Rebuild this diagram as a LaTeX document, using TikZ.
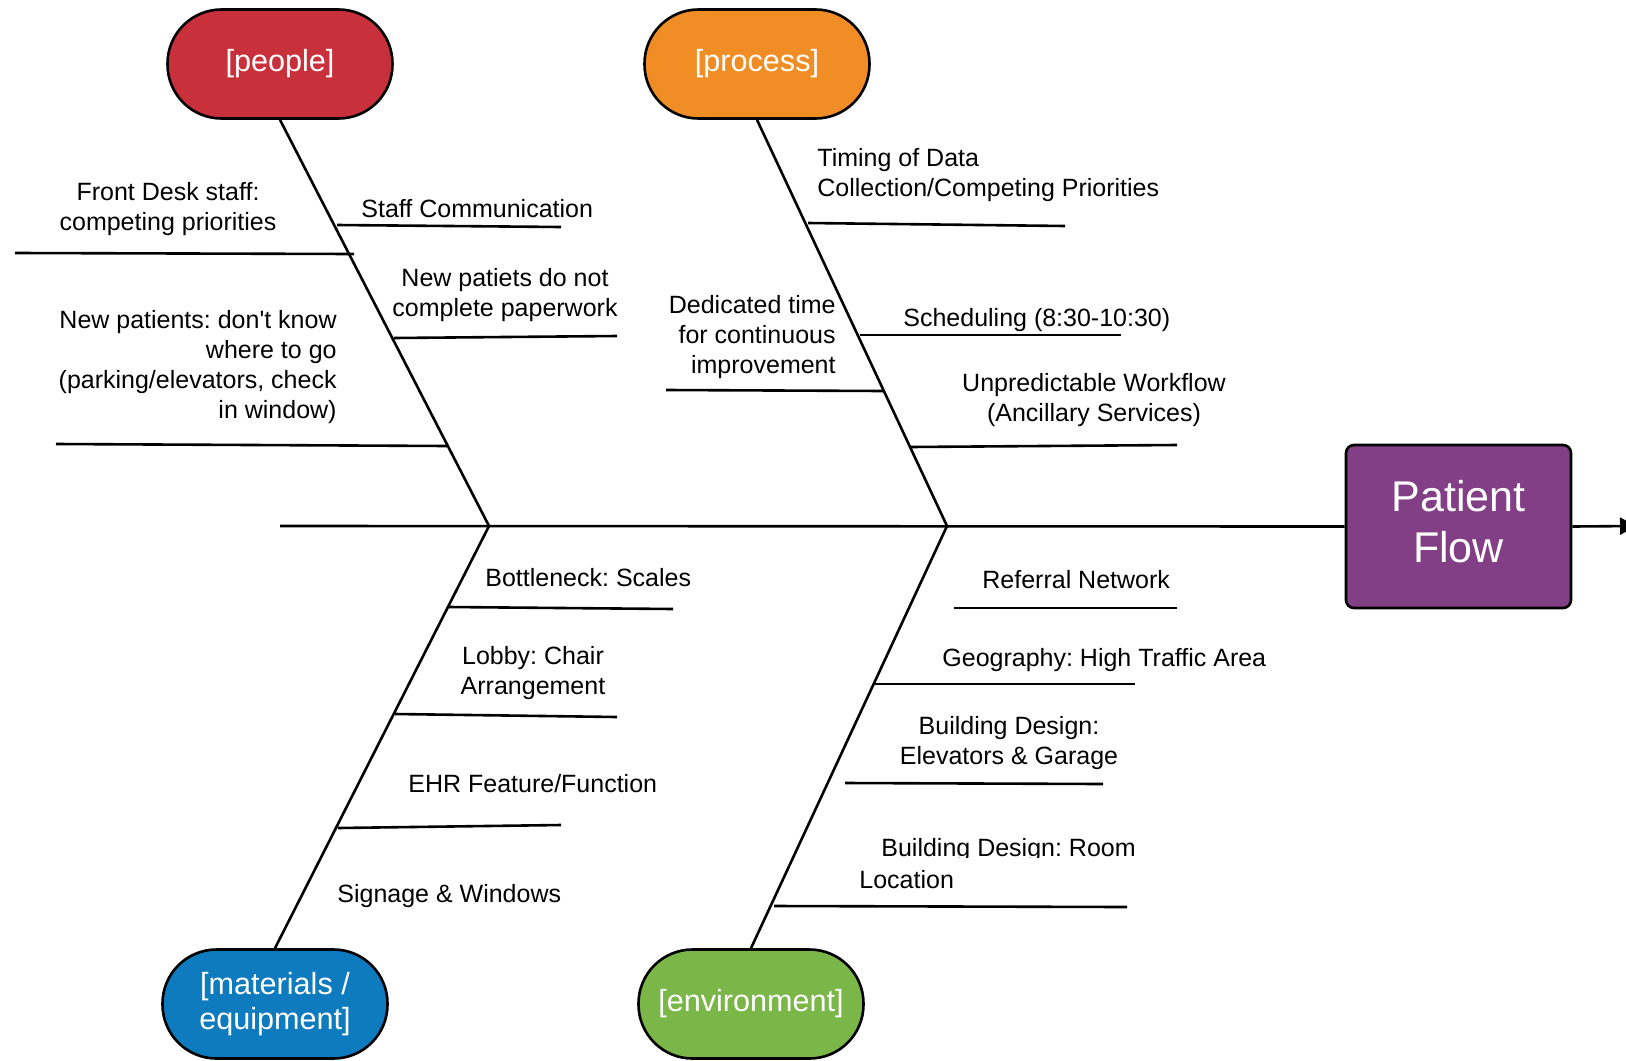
\documentclass[tikz,border=0pt]{standalone}
\usepackage{fontspec}
\setmainfont{Liberation Sans}
\usetikzlibrary{arrows.meta,positioning}
\definecolor{peoplered}{HTML}{C8303B}
\definecolor{processorange}{HTML}{F08E25}
\definecolor{materialsblue}{HTML}{0E7BBE}
\definecolor{environmentgreen}{HTML}{7AB648}
\definecolor{flowpurple}{HTML}{833F86}
\frenchspacing
\begin{document}
\begin{tikzpicture}[x=0.5pt,y=-0.5pt,
    cat/.style={draw=black,line width=1.3pt,rounded corners=27pt,minimum width=112.5pt,minimum height=54.5pt,
      inner sep=0pt,text=white,align=center,font=\fontsize{15.3}{17.5}\selectfont},
    bone/.style={line width=1.3pt},
    rib/.style={line width=1.3pt},
    cause/.style={inner sep=0pt,font=\fontsize{12.5}{15}\selectfont}]
        \useasboundingbox (0,0) rectangle (1626,1060);
        \node[cat,fill=peoplered] (people) at (280,64) {[people]};
        \node[cat,fill=processorange] (process) at (757,64) {[process]};
        \node[cat,fill=materialsblue] (materials) at (275,1004) {[materials /\\equipment]};
        \node[cat,fill=environmentgreen] (environment) at (751,1004) {[environment]};
        \node[draw=black,line width=1.3pt,rounded corners=4pt,fill=flowpurple,minimum width=112.5pt,minimum height=81.5pt,
          text=white,align=center,font=\fontsize{21.5}{25.5}\selectfont] (flow) at (1458.5,526.5) {Patient\\Flow\rule[-5pt]{0pt}{5pt}};
        \coordinate (tail) at (280,526);
        \coordinate (j1) at (489,526);
        \coordinate (j2) at (947,526);
        \coordinate (head) at (1636,526);
        \draw[bone] (tail) -- (flow.west);
        \draw[bone,-{Triangle[length=8pt,width=8.5pt]}] (flow.east) -- (head);
        \draw[bone] (people.south) -- (j1);
        \draw[bone] (j1) -- (materials.north);
        \draw[bone] (process.south) -- (j2);
        \draw[bone] (j2) -- (environment.north);
        \foreach \xa/\ya/\xb/\yb in {337/225/561/227, 15/253/354/254, 394/338/617/336, 56/444/448/446,
            808/223/1065/226, 860/335/1121/335, 666/390/884/391, 910/447/1177/445,
            449/607/673/609, 395/714/617/717, 338/828/561/825,
            954/608/1177/608, 875/684/1135/684, 845/783/1103/784, 774/906/1127/907} {
          \draw[rib] (\xa,\ya) -- (\xb,\yb);
        }
        \node[cause,align=center] (frontdesk) at (168,209) {Front Desk staff:\\competing priorities};
        \node[cause,anchor=west] (staffcomm) at (361,209) {Staff Communication};
        \node[cause,align=center] (paperwork) at (505,295) {New patiets do not\\complete paperwork};
        \node[cause,align=right,anchor=east] (wheretogo) at (337,367) {New patients: don\textquotesingle t know\\where to go\\(parking/elevators, check\\in window)};
        \node[cause,align=left,anchor=west] (timing) at (817,175) {Timing of Data\\Collection/Competing Priorities};
        \node[cause,align=right,anchor=east] (dedicated) at (836,337) {Dedicated time\\for continuous\\improvement};
        \node[cause,anchor=west] (scheduling) at (903,320) {Scheduling (8:30-10:30)};
        \node[cause,align=center] (workflow) at (1094,400) {Unpredictable Workflow\\(Ancillary Services)};
        \node[cause,anchor=west] (bottleneck) at (485,578) {Bottleneck: Scales};
        \node[cause,align=center] (lobby) at (533,673) {Lobby: Chair\\Arrangement};
        \node[cause,anchor=west] (ehr) at (408,784) {EHR Feature/Function};
        \node[cause,anchor=west] (signage) at (337,896) {Signage \& Windows};
        \node[cause,anchor=west] (referral) at (982,580) {Referral Network};
        \node[cause,anchor=west] (geography) at (942,660) {Geography: High Traffic Area};
        \node[cause,align=center] (elevators) at (1009,743) {Building Design:\\Elevators \& Garage};
        \begin{scope}
          \clip (850,820) rectangle (1160,857);
          \node[cause,anchor=west] (roomdesign) at (881,850) {Building Design: Room};
        \end{scope}
        \node[cause,anchor=west] (roomlocation) at (859,880) {Location};
      \end{tikzpicture}
\end{document}
